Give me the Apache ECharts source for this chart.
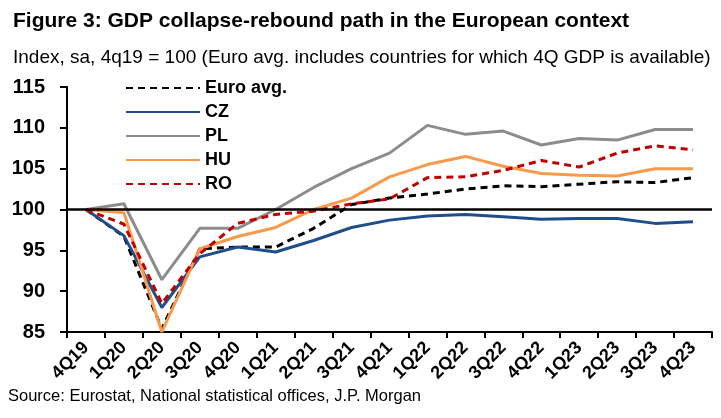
<!DOCTYPE html>
<html>
<head>
<meta charset="utf-8">
<script src="https://cdn.jsdelivr.net/npm/echarts@6/dist/echarts.min.js"></script>
<style>html,body{margin:0;padding:0;background:#fff;}#c{width:721px;height:418px;}</style>
</head>
<body>
<div id="c"></div>
<script>
var categories = ['4Q19','1Q20','2Q20','3Q20','4Q20','1Q21','2Q21','3Q21','4Q21','1Q22','2Q22','3Q22','4Q22','1Q23','2Q23','3Q23','4Q23'];
var euroAvg = [100, 96.7, 85.4, 95.2, 95.4, 95.4, 97.7, 100.6, 101.4, 101.9, 102.5, 102.9, 102.8, 103.1, 103.4, 103.3, 103.9];
var cz = [100, 96.8, 88.0, 94.2, 95.4, 94.8, 96.2, 97.8, 98.7, 99.2, 99.4, 99.1, 98.8, 98.9, 98.9, 98.3, 98.5];
var pl = [100, 100.7, 91.4, 97.7, 97.7, 100.0, 102.7, 105.0, 106.9, 110.3, 109.2, 109.6, 107.9, 108.7, 108.5, 109.8, 109.8];
var hu = [100, 99.6, 85.0, 95.2, 96.7, 97.8, 100.0, 101.4, 104.0, 105.5, 106.5, 105.3, 104.4, 104.2, 104.1, 105.0, 105.0];
var ro = [100, 98.2, 88.5, 94.6, 98.3, 99.4, 99.8, 100.7, 101.3, 103.9, 104.0, 104.8, 106.0, 105.2, 106.9, 107.8, 107.3];
var yTicks = {min: 85, max: 115, interval: 5};

var FONT = '"Liberation Sans", Arial, sans-serif';
var NARROW = '"Liberation Sans Narrow", "Arial Narrow", "Liberation Sans", sans-serif';
var chart = echarts.init(document.getElementById('c'), null, {renderer: 'canvas'});

function mk(name, data, color, type) {
  return {
    name: name, type: 'line', data: data, symbol: 'none',
    lineStyle: {color: color, width: 3, type: type},
    itemStyle: {color: color},
    z: 3
  };
}

var series = [
  mk('Euro avg.', euroAvg, '#000000', [7, 5]),
  mk('CZ', cz, '#1F4E8C', 'solid'),
  mk('PL', pl, '#8C8C8C', 'solid'),
  mk('HU', hu, '#F79A4B', 'solid'),
  mk('RO', ro, '#C00000', [7, 5])
];
series[0].markLine = {
  silent: true, symbol: 'none', label: {show: false},
  lineStyle: {color: '#000', width: 2.5, type: 'solid'},
  data: [{yAxis: 100}]
};

chart.setOption({
  animation: false,
  backgroundColor: '#fff',
  title: [
    {text: 'Figure 3: GDP collapse-rebound path in the European context', left: 8, top: 6,
     textStyle: {fontFamily: FONT, fontSize: 21, fontWeight: 'bold', color: '#000'}},
    {text: 'Index, sa, 4q19 = 100 (Euro avg. includes countries for which 4Q GDP is available)', left: 8, top: 43,
     textStyle: {fontFamily: FONT, fontSize: 19, fontWeight: 'normal', color: '#000'}}
  ],
  legend: {
    orient: 'vertical', left: 120, top: 73,
    itemWidth: 74, itemHeight: 14, itemGap: 4,
    itemStyle: {opacity: 0, borderWidth: 0},
    textStyle: {fontFamily: FONT, fontSize: 18, fontWeight: 'bold', color: '#000', lineHeight: 20},
    data: ['Euro avg.', 'CZ', 'PL', 'HU', 'RO']
  },
  grid: {left: 67, right: 9, top: 87, bottom: 86, containLabel: false},
  xAxis: {
    type: 'category', data: categories, boundaryGap: true,
    axisLine: {lineStyle: {color: '#000', width: 2}},
    axisTick: {show: true, length: 6, lineStyle: {color: '#000', width: 2}},
    axisLabel: {interval: 0, rotate: 45, margin: 13, fontFamily: FONT, fontSize: 18, fontWeight: 'bold', color: '#000'},
    splitLine: {show: false}
  },
  yAxis: {
    type: 'value', min: yTicks.min, max: yTicks.max, interval: yTicks.interval,
    axisLine: {show: true, lineStyle: {color: '#000', width: 2}},
    axisTick: {show: true, length: 7, lineStyle: {color: '#000', width: 2}},
    axisLabel: {margin: 22, fontFamily: NARROW, fontSize: 20, fontWeight: 'bold', color: '#000'},
    splitLine: {show: false}
  },
  graphic: [{
    type: 'text', left: 8, top: 388,
    style: {text: 'Source: Eurostat, National statistical offices, J.P. Morgan', fontFamily: FONT, fontSize: 16.5, fill: '#000'}
  }],
  series: series
});
</script>
</body>
</html>
